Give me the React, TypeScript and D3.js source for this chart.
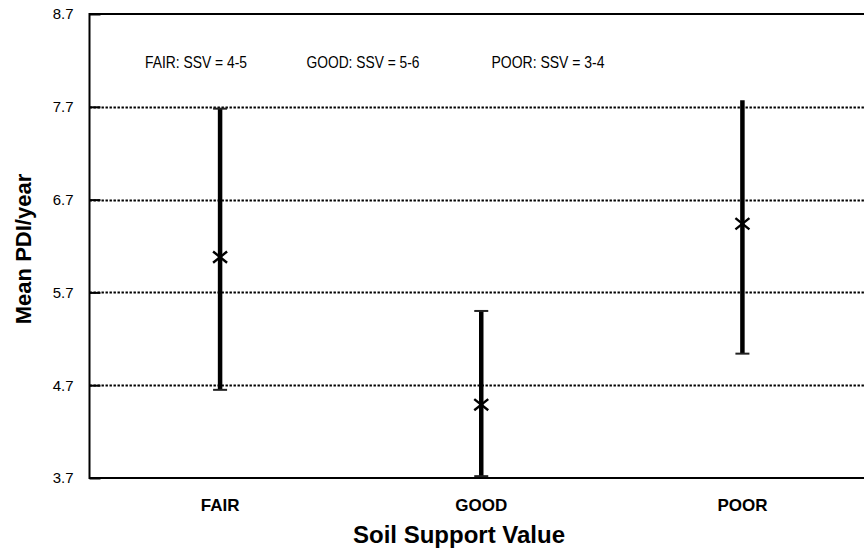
import React, { useEffect, useRef } from "react";
import * as d3 from "d3";

// Soil support classes and their mean PDI/year with range limits
const categories = ["FAIR", "GOOD", "POOR"];
const meanValues = [6.08, 4.49, 6.44];
const lowValues = [4.65, 3.72, 5.04];
const highValues = [7.68, 5.5, 7.77];
const highCap = [true, true, false];
const yTicks = [3.7, 4.7, 5.7, 6.7, 7.7, 8.7];
const classNotes = ["FAIR: SSV = 4-5", "GOOD: SSV = 5-6", "POOR: SSV = 3-4"];

const W = 864;
const H = 550;
const plot = { left: 89.5, right: 873, top: 14, bottom: 478 };
const noteX = [196, 363, 548];
const FONT = "'Liberation Sans', Arial, Helvetica, sans-serif";

// Asterisk marker: vertical stroke plus two flatter diagonals
const starSymbol = {
  draw(ctx: any, size: number) {
    const r = Math.sqrt(size) / 2;
    const dx = r;
    const dy = r * 0.8;
    ctx.moveTo(0, -r);
    ctx.lineTo(0, r);
    ctx.moveTo(-dx, -dy);
    ctx.lineTo(dx, dy);
    ctx.moveTo(-dx, dy);
    ctx.lineTo(dx, -dy);
  },
};

export default function App() {
  const ref = useRef<SVGSVGElement>(null);

  useEffect(() => {
    const svg = d3.select(ref.current);
    svg.selectAll("*").remove();

    const x = d3
      .scaleBand<string>()
      .domain(categories)
      .range([plot.left, plot.right])
      .padding(0);
    const y = d3.scaleLinear().domain([3.7, 8.7]).range([plot.bottom, plot.top]);
    const cx = (c: string) => (x(c) as number) + x.bandwidth() / 2;

    // dotted gridlines
    svg
      .append("g")
      .selectAll("line")
      .data(yTicks.filter((t) => t > 3.7 && t < 8.7))
      .join("line")
      .attr("x1", plot.left)
      .attr("x2", plot.right)
      .attr("y1", (d) => Math.round(y(d)) + 0.5)
      .attr("y2", (d) => Math.round(y(d)) + 0.5)
      .attr("stroke", "#000")
      .attr("stroke-width", 1.8)
      .attr("stroke-dasharray", "2.4,1.6");

    // frame: top, left and bottom edges
    const frame = svg.append("g").attr("stroke", "#000").attr("stroke-width", 2).attr("fill", "none");
    frame.append("line").attr("x1", plot.left).attr("x2", plot.right).attr("y1", y(8.7)).attr("y2", y(8.7));
    frame.append("line").attr("x1", plot.left).attr("x2", plot.right).attr("y1", y(3.7)).attr("y2", y(3.7));
    frame.append("line").attr("x1", plot.left).attr("x2", plot.left).attr("y1", y(8.7) - 1).attr("y2", y(3.7) + 1);

    // y axis, ticks pointing inward
    const yAxis = d3
      .axisLeft(y)
      .tickValues(yTicks)
      .tickFormat(d3.format(".1f"))
      .tickSizeInner(-11)
      .tickSizeOuter(0)
      .tickPadding(16);
    const gy = svg.append("g").attr("transform", `translate(${plot.left},0)`).call(yAxis);
    gy.select(".domain").remove();
    gy.selectAll(".tick line").attr("stroke", "#000").attr("stroke-width", 2);
    gy.selectAll(".tick text")
      .attr("font-family", FONT)
      .attr("font-size", 15)
      .attr("fill", "#000");

    // category labels
    svg
      .append("g")
      .selectAll("text")
      .data(categories)
      .join("text")
      .attr("x", (d) => cx(d))
      .attr("y", 511)
      .attr("text-anchor", "middle")
      .attr("font-family", FONT)
      .attr("font-weight", "bold")
      .attr("font-size", 17)
      .text((d) => d);

    // range bars
    const bars = svg.append("g");
    categories.forEach((c, i) => {
      const px = cx(c);
      bars
        .append("line")
        .attr("x1", px)
        .attr("x2", px)
        .attr("y1", y(highValues[i]))
        .attr("y2", y(lowValues[i]))
        .attr("stroke", "#000")
        .attr("stroke-width", 4.5);
      const caps = highCap[i] ? [lowValues[i], highValues[i]] : [lowValues[i]];
      caps.forEach((v) => {
        bars
          .append("line")
          .attr("x1", px - 7)
          .attr("x2", px + 7)
          .attr("y1", y(v))
          .attr("y2", y(v))
          .attr("stroke", "#222")
          .attr("stroke-width", 2);
      });
    });

    // mean markers
    const star = d3.symbol().type(starSymbol as any).size(196);
    svg
      .append("g")
      .selectAll("path")
      .data(categories)
      .join("path")
      .attr("transform", (d, i) => `translate(${cx(d)},${y(meanValues[i])})`)
      .attr("d", star() as string)
      .attr("fill", "none")
      .attr("stroke", "#000")
      .attr("stroke-width", 2.4);

    // class notes along the top
    svg
      .append("g")
      .selectAll("text")
      .data(classNotes)
      .join("text")
      .attr("x", (d, i) => noteX[i])
      .attr("y", 68)
      .attr("text-anchor", "middle")
      .attr("font-family", FONT)
      .attr("font-size", 17)
      .attr("textLength", (d, i) => (i === 0 ? 102 : 113))
      .attr("lengthAdjust", "spacingAndGlyphs")
      .text((d) => d);

    // axis titles
    svg
      .append("text")
      .attr("x", 459)
      .attr("y", 543)
      .attr("text-anchor", "middle")
      .attr("font-family", FONT)
      .attr("font-weight", "bold")
      .attr("font-size", 24)
      .text("Soil Support Value");

    svg
      .append("text")
      .attr("transform", `translate(31,249) rotate(-90)`)
      .attr("text-anchor", "middle")
      .attr("font-family", FONT)
      .attr("font-weight", "bold")
      .attr("font-size", 22)
      .text("Mean PDI/year");
  }, []);

  return (
    <svg
      ref={ref}
      width={W}
      height={H}
      style={{ position: "absolute", left: 0, top: 0, background: "#fff" }}
    />
  );
}
